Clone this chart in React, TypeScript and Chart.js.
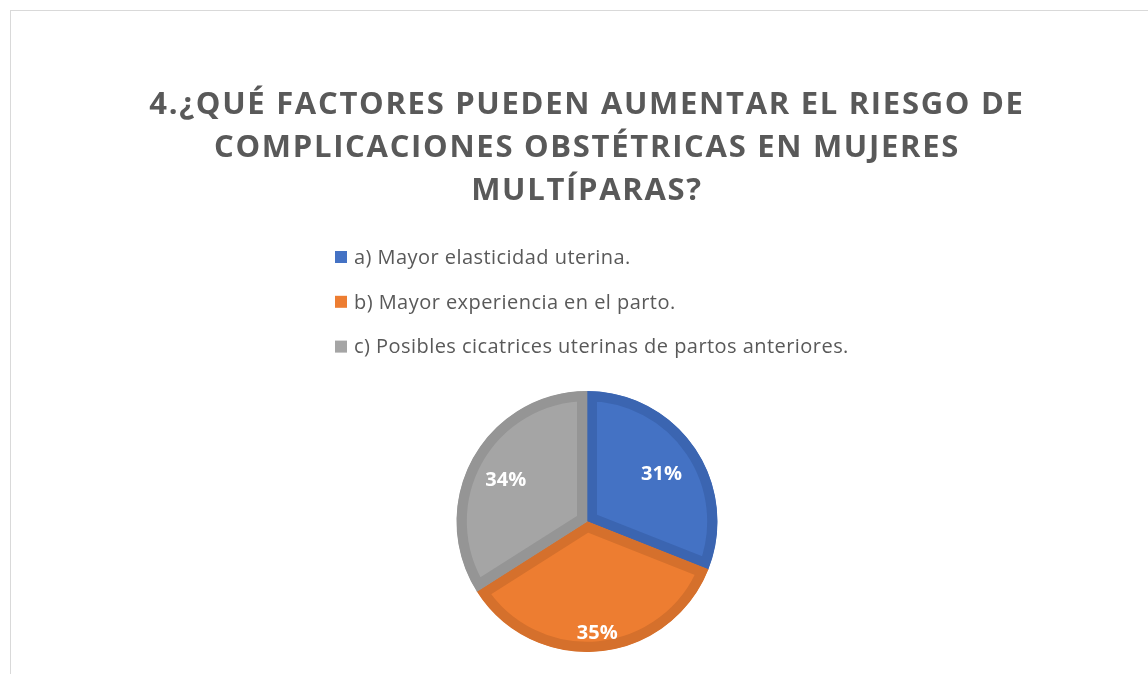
import React, { useEffect, useRef } from "react";
import { Chart, registerables } from "chart.js";

Chart.register(...registerables);

const categories = [
  "a) Mayor elasticidad uterina.",
  "b) Mayor experiencia en el parto.",
  "c) Posibles cicatrices uterinas de partos anteriores.",
];
const values = [31, 35, 34];
const titleLines = [
  "4.¿QUÉ FACTORES PUEDEN AUMENTAR EL RIESGO DE",
  "COMPLICACIONES OBSTÉTRICAS EN MUJERES",
  "MULTÍPARAS?",
];

const fillColors = ["#4472c4", "#ed7d31", "#a5a5a5"];
const ringColors = ["#3b65b1", "#d5702c", "#959595"];

const spacingPlugin = {
  id: "titleSpacing",
  beforeDraw(chart: any) {
    (chart.ctx as any).letterSpacing = "1.7px";
  },
  beforeDatasetsDraw(chart: any) {
    (chart.ctx as any).letterSpacing = "0px";
  },
};

const legendPlugin = {
  id: "vLegend",
  afterDraw(chart: any) {
    const ctx = chart.ctx;
    const labels = chart.data.labels as string[];
    const colors = chart.data.datasets[0].backgroundColor as string[];
    ctx.save();
    (ctx as any).letterSpacing = "0.45px";
    ctx.font = "20px 'Open Sans'";
    ctx.textBaseline = "middle";
    ctx.textAlign = "left";
    const x0 = 335;
    const y0 = 257;
    const step = 44.8;
    labels.forEach((lab, i) => {
      const y = y0 + i * step;
      ctx.fillStyle = colors[i];
      ctx.fillRect(x0, y - 6, 12, 12);
      ctx.fillStyle = "#595959";
      ctx.fillText(lab, x0 + 19, y + 1);
    });
    ctx.restore();
  },
};

const labelPlugin = {
  id: "pctLabels",
  afterDatasetsDraw(chart: any) {
    const ctx = chart.ctx;
    const meta = chart.getDatasetMeta(0);
    const data = chart.data.datasets[0].data as number[];
    const total = data.reduce((a, b) => a + b, 0);
    const factors = [0.69, 0.84, 0.71];
    ctx.save();
    (ctx as any).letterSpacing = "0px";
    ctx.font = "bold 20px 'Open Sans'";
    ctx.fillStyle = "#ffffff";
    ctx.textAlign = "center";
    ctx.textBaseline = "middle";
    meta.data.forEach((arc: any, i: number) => {
      const p = arc.getProps(["x", "y", "startAngle", "endAngle", "outerRadius"], true);
      const mid = (p.startAngle + p.endAngle) / 2;
      const r = p.outerRadius * factors[i];
      const x = p.x + Math.cos(mid) * r;
      const y = p.y + Math.sin(mid) * r;
      ctx.fillText(Math.round((data[i] / total) * 100) + "%", x, y + 3);
    });
    ctx.restore();
  },
};

export default function App() {
  const ref = useRef<HTMLCanvasElement | null>(null);
  useEffect(() => {
    if (!ref.current) return;
    const chart = new Chart(ref.current, {
      type: "pie",
      data: {
        labels: categories,
        datasets: [
          {
            data: values,
            backgroundColor: fillColors,
            borderColor: ringColors,
            borderWidth: 10,
            borderAlign: "inner",
          } as any,
        ],
      },
      options: {
        animation: false,
        responsive: false,
        maintainAspectRatio: false,
        layout: { padding: { left: 26, right: 0, top: 0, bottom: 22 } },
        plugins: {
          legend: { display: false },
          tooltip: { enabled: false },
          title: {
            display: true,
            text: titleLines,
            color: "#595959",
            font: { family: "'Open Sans'", size: 31, weight: "bold", lineHeight: 43 / 31 },
            padding: { top: 84, bottom: 178 },
          },
        },
      },
      plugins: [spacingPlugin, legendPlugin, labelPlugin],
    });
    return () => chart.destroy();
  }, []);
  return (
    <div
      style={{
        position: "fixed",
        left: 0,
        top: 0,
        width: 1148,
        height: 674,
        overflow: "hidden",
        background: "#ffffff",
      }}
    >
      <div
        style={{
          position: "absolute",
          left: 10,
          top: 10,
          width: 1200,
          height: 700,
          border: "1px solid #d9d9d9",
          boxSizing: "border-box",
        }}
      />
      <canvas
        ref={ref}
        width={1148}
        height={674}
        style={{ position: "absolute", left: 0, top: 0, width: 1148, height: 674 }}
      />
    </div>
  );
}
